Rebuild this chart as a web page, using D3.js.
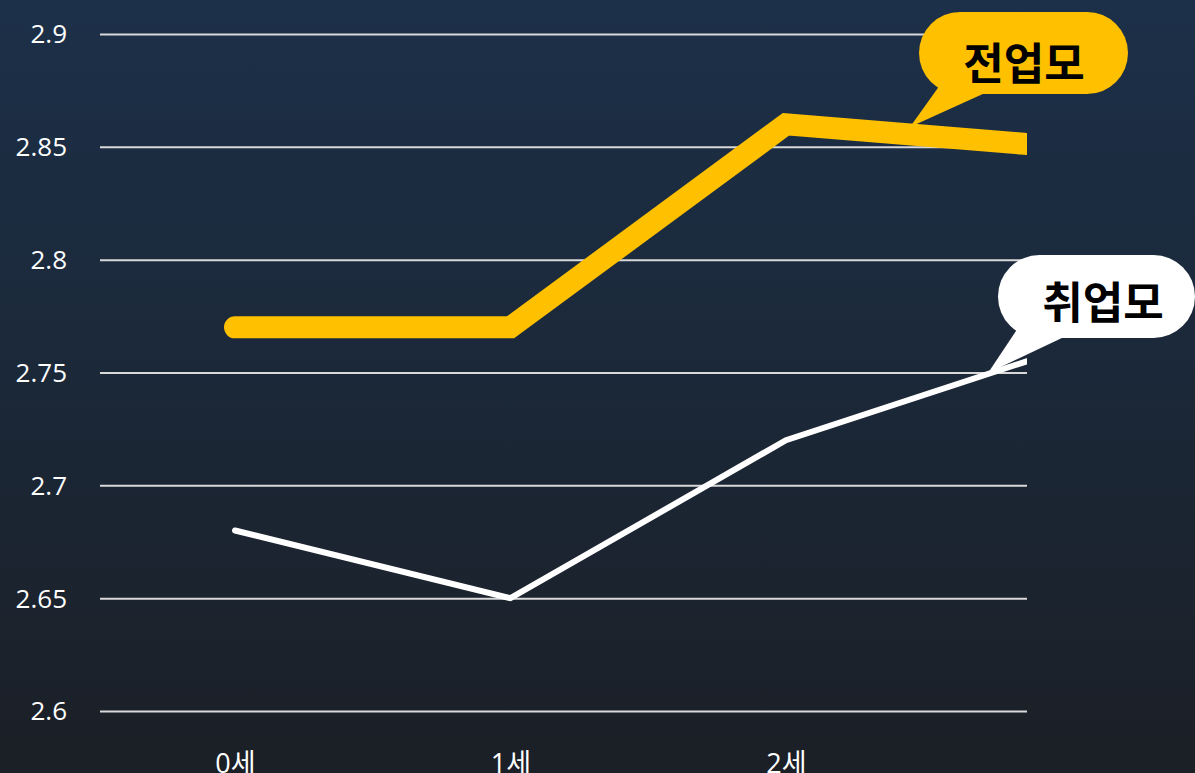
<!DOCTYPE html>
<html>
<head>
<meta charset="utf-8">
<script src="https://cdn.jsdelivr.net/npm/d3@7"></script>
<style>
  html, body { margin: 0; padding: 0; background: #1b1f26; overflow: hidden; }
  svg { display: block; }
</style>
</head>
<body>
<svg id="chart" width="1195" height="773"></svg>
<script>
const categories = ["0세", "1세", "2세", "3세"];
const visibleTicks = ["0세", "1세", "2세"];
const yTicks = [2.6, 2.65, 2.7, 2.75, 2.8, 2.85, 2.9];
const fullTimeMom = [2.77, 2.77, 2.86, 2.85];   // 전업모
const workingMom = [2.68, 2.65, 2.72, 2.76];     // 취업모
const seriesNames = ["전업모", "취업모"];

const W = 1195, H = 773;
const plot = { left: 100, right: 1027, top: 34, bottom: 711 };

const svg = d3.select("#chart");
const defs = svg.append("defs");
const grad = defs.append("linearGradient").attr("id", "bg").attr("x1", 0).attr("y1", 0).attr("x2", 0).attr("y2", 1);
grad.append("stop").attr("offset", "0%").attr("stop-color", "#1c3049");
grad.append("stop").attr("offset", "55%").attr("stop-color", "#1b2736");
grad.append("stop").attr("offset", "100%").attr("stop-color", "#1b1f26");
svg.append("rect").attr("width", W).attr("height", H).attr("fill", "url(#bg)");

defs.append("clipPath").attr("id", "clip")
  .append("rect").attr("x", plot.left).attr("y", 0).attr("width", plot.right - plot.left).attr("height", H);

const x = d3.scalePoint().domain(categories).range([235, 1061.5]);
const y = d3.scaleLinear().domain([2.6, 2.9]).range([plot.bottom, plot.top]);

const font = "'Open Sans', 'Noto Sans CJK KR', sans-serif";

// grid
const yAxis = d3.axisLeft(y).tickValues(yTicks).tickSize(-(plot.right - plot.left)).tickPadding(33)
  .tickFormat(d => d3.format("")(+d.toFixed(2)));
const gy = svg.append("g").attr("transform", `translate(${plot.left},0)`).call(yAxis);
gy.select(".domain").remove();
gy.selectAll(".tick line").attr("stroke", "#d9d9d9").attr("stroke-width", 2);
gy.selectAll(".tick text").attr("fill", "#ffffff").style("font-family", font).style("font-size", "26px").attr("dy", "0.34em");

// x axis labels
const xAxis = d3.axisBottom(x).tickValues(visibleTicks).tickSize(0).tickPadding(0);
const gx = svg.append("g").attr("transform", `translate(0,${plot.bottom})`).call(xAxis);
gx.select(".domain").remove();
gx.selectAll(".tick text").attr("fill", "#ffffff").style("font-family", font).style("font-size", "27px")
  .attr("dy", null).attr("y", 62).style("dominant-baseline", "auto");

// lines
const line = d3.line().x((d, i) => x(categories[i])).y(d => y(d));
const g = svg.append("g").attr("clip-path", "url(#clip)");
g.append("path").datum(workingMom).attr("d", line).attr("fill", "none")
  .attr("stroke", "#ffffff").attr("stroke-width", 6).attr("stroke-linecap", "round").attr("stroke-linejoin", "miter");
g.append("path").datum(fullTimeMom).attr("d", line).attr("fill", "none")
  .attr("stroke", "#ffc000").attr("stroke-width", 22).attr("stroke-linecap", "round").attr("stroke-linejoin", "miter");

// callouts
function bubble(bx, by, bw, bh, tail, fill, label, tx, ty) {
  const r = bh / 2;
  const gb = svg.append("g");
  gb.append("path").attr("d", `M${tail[0][0]},${tail[0][1]} L${tail[2][0]},${tail[2][1]} L${tail[1][0]},${tail[1][1]} Z`).attr("fill", fill);
  gb.append("rect").attr("x", bx).attr("y", by).attr("width", bw).attr("height", bh).attr("rx", r).attr("ry", r).attr("fill", fill);
  gb.append("text").attr("x", tx).attr("y", ty).attr("text-anchor", "middle")
    .style("font-family", "'Noto Sans CJK KR', sans-serif").style("font-weight", 700).style("font-size", "44px")
    .attr("fill", "#000000").text(label);
}
bubble(919, 12, 209, 82, [[940, 85], [985, 93], [910, 127]], "#ffc000", seriesNames[0], 1024, 80);
bubble(998, 255, 197, 83, [[1018, 328], [1064, 337], [988, 373]], "#ffffff", seriesNames[1], 1103, 319);
</script>
</body>
</html>
